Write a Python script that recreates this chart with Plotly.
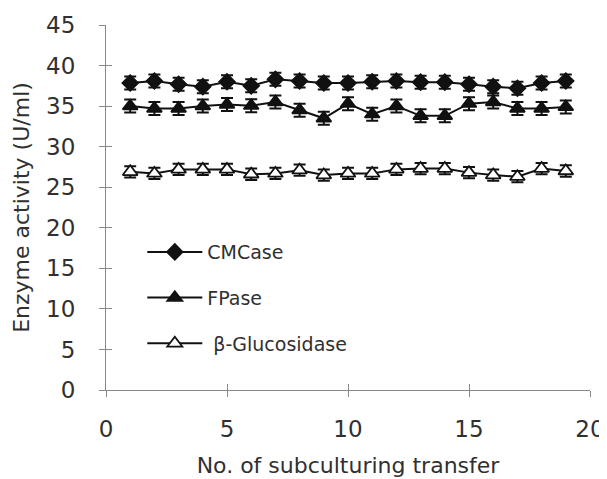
import plotly.graph_objects as go

transfers = list(range(1, 20))
cmcase = [37.85, 38.1, 37.7, 37.4, 38.0, 37.5, 38.3, 38.1, 37.85, 37.85,
          38.0, 38.1, 37.95, 37.95, 37.7, 37.4, 37.2, 37.85, 38.1]
fpase = [35.0, 34.7, 34.7, 35.0, 35.2, 35.05, 35.5, 34.5, 33.5, 35.3,
         34.0, 35.0, 33.8, 33.8, 35.3, 35.5, 34.7, 34.7, 34.9]
bglu = [26.9, 26.7, 27.2, 27.2, 27.2, 26.6, 26.7, 27.1, 26.5, 26.7,
        26.7, 27.2, 27.3, 27.3, 26.8, 26.5, 26.3, 27.3, 27.0]
err_cm = [0.8] * 19
err_fp = [0.8] * 19
err_bg = [0.7] * 19
names = ["CMCase", "FPase", "\u00a0\u03b2-Glucosidase"]
xticks = [0, 5, 10, 15, 20]
yticks = [0, 5, 10, 15, 20, 25, 30, 35, 40, 45]

FONT = "DejaVu Sans, Liberation Sans, sans-serif"
TXT = "#303030"
fig = go.Figure()

series = [
    (cmcase, err_cm, names[0], "diamond", "#111111", 12),
    (fpase, err_fp, names[1], "triangle-up", "#111111", 13),
    (bglu, err_bg, names[2], "triangle-up", "white", 13),
]
for i, (vals, errs, name, sym, fill, size) in enumerate(series):
    fig.add_trace(go.Scatter(
        x=transfers, y=vals, name=name, mode="lines+markers",
        legendgroup=f"g{i}",
        line=dict(color="#111111", width=2),
        marker=dict(symbol=sym, size=size, color=fill,
                    line=dict(color="#111111", width=1.8)),
        error_y=dict(type="data", array=errs, color="#111111",
                     thickness=2, width=6),
    ))

# invisible trace for overlay axes (crossing ticks)
fig.add_trace(go.Scatter(x=[0], y=[0], xaxis="x2", yaxis="y2",
                         mode="markers", marker=dict(opacity=0),
                         showlegend=False, hoverinfo="skip"))

fig.update_layout(
    width=607, height=479,
    margin=dict(l=98, r=25, t=17, b=97),
    paper_bgcolor="white", plot_bgcolor="white",
    font=dict(family=FONT, color=TXT, size=20),
    showlegend=True,
    legend=dict(x=0.075, y=0.43, xanchor="left", yanchor="top",
                bgcolor="rgba(0,0,0,0)", tracegroupgap=18,
                itemwidth=55,
                font=dict(size=19, family=FONT, color=TXT)),
    xaxis=dict(range=[0, 20], tickvals=xticks, showgrid=False,
               zeroline=False, showline=True, linecolor="#888888",
               linewidth=1.2, ticks="outside", ticklen=6,
               tickcolor="#888888", tickfont=dict(size=23),
               ticklabelstandoff=12, automargin=False,
               title=dict(text="No. of subculturing transfer",
                          font=dict(size=22), standoff=16)),
    yaxis=dict(range=[0, 45], tickvals=yticks, showgrid=False,
               zeroline=False, showline=True, linecolor="#888888",
               linewidth=1.2, ticks="outside", ticklen=6,
               tickcolor="#888888", tickfont=dict(size=23),
               ticklabelstandoff=19, automargin=False,
               title=dict(text="Enzyme activity (U/ml)",
                          font=dict(size=22), standoff=10)),
    xaxis2=dict(range=[0, 20], tickvals=xticks, overlaying="x",
                showticklabels=False, showgrid=False, zeroline=False,
                showline=False, ticks="inside", ticklen=6,
                tickcolor="#888888", automargin=False),
    yaxis2=dict(range=[0, 45], tickvals=yticks, overlaying="y",
                showticklabels=False, showgrid=False, zeroline=False,
                showline=False, ticks="inside", ticklen=6,
                tickcolor="#888888", automargin=False),
)

fig.write_html("out.html")
